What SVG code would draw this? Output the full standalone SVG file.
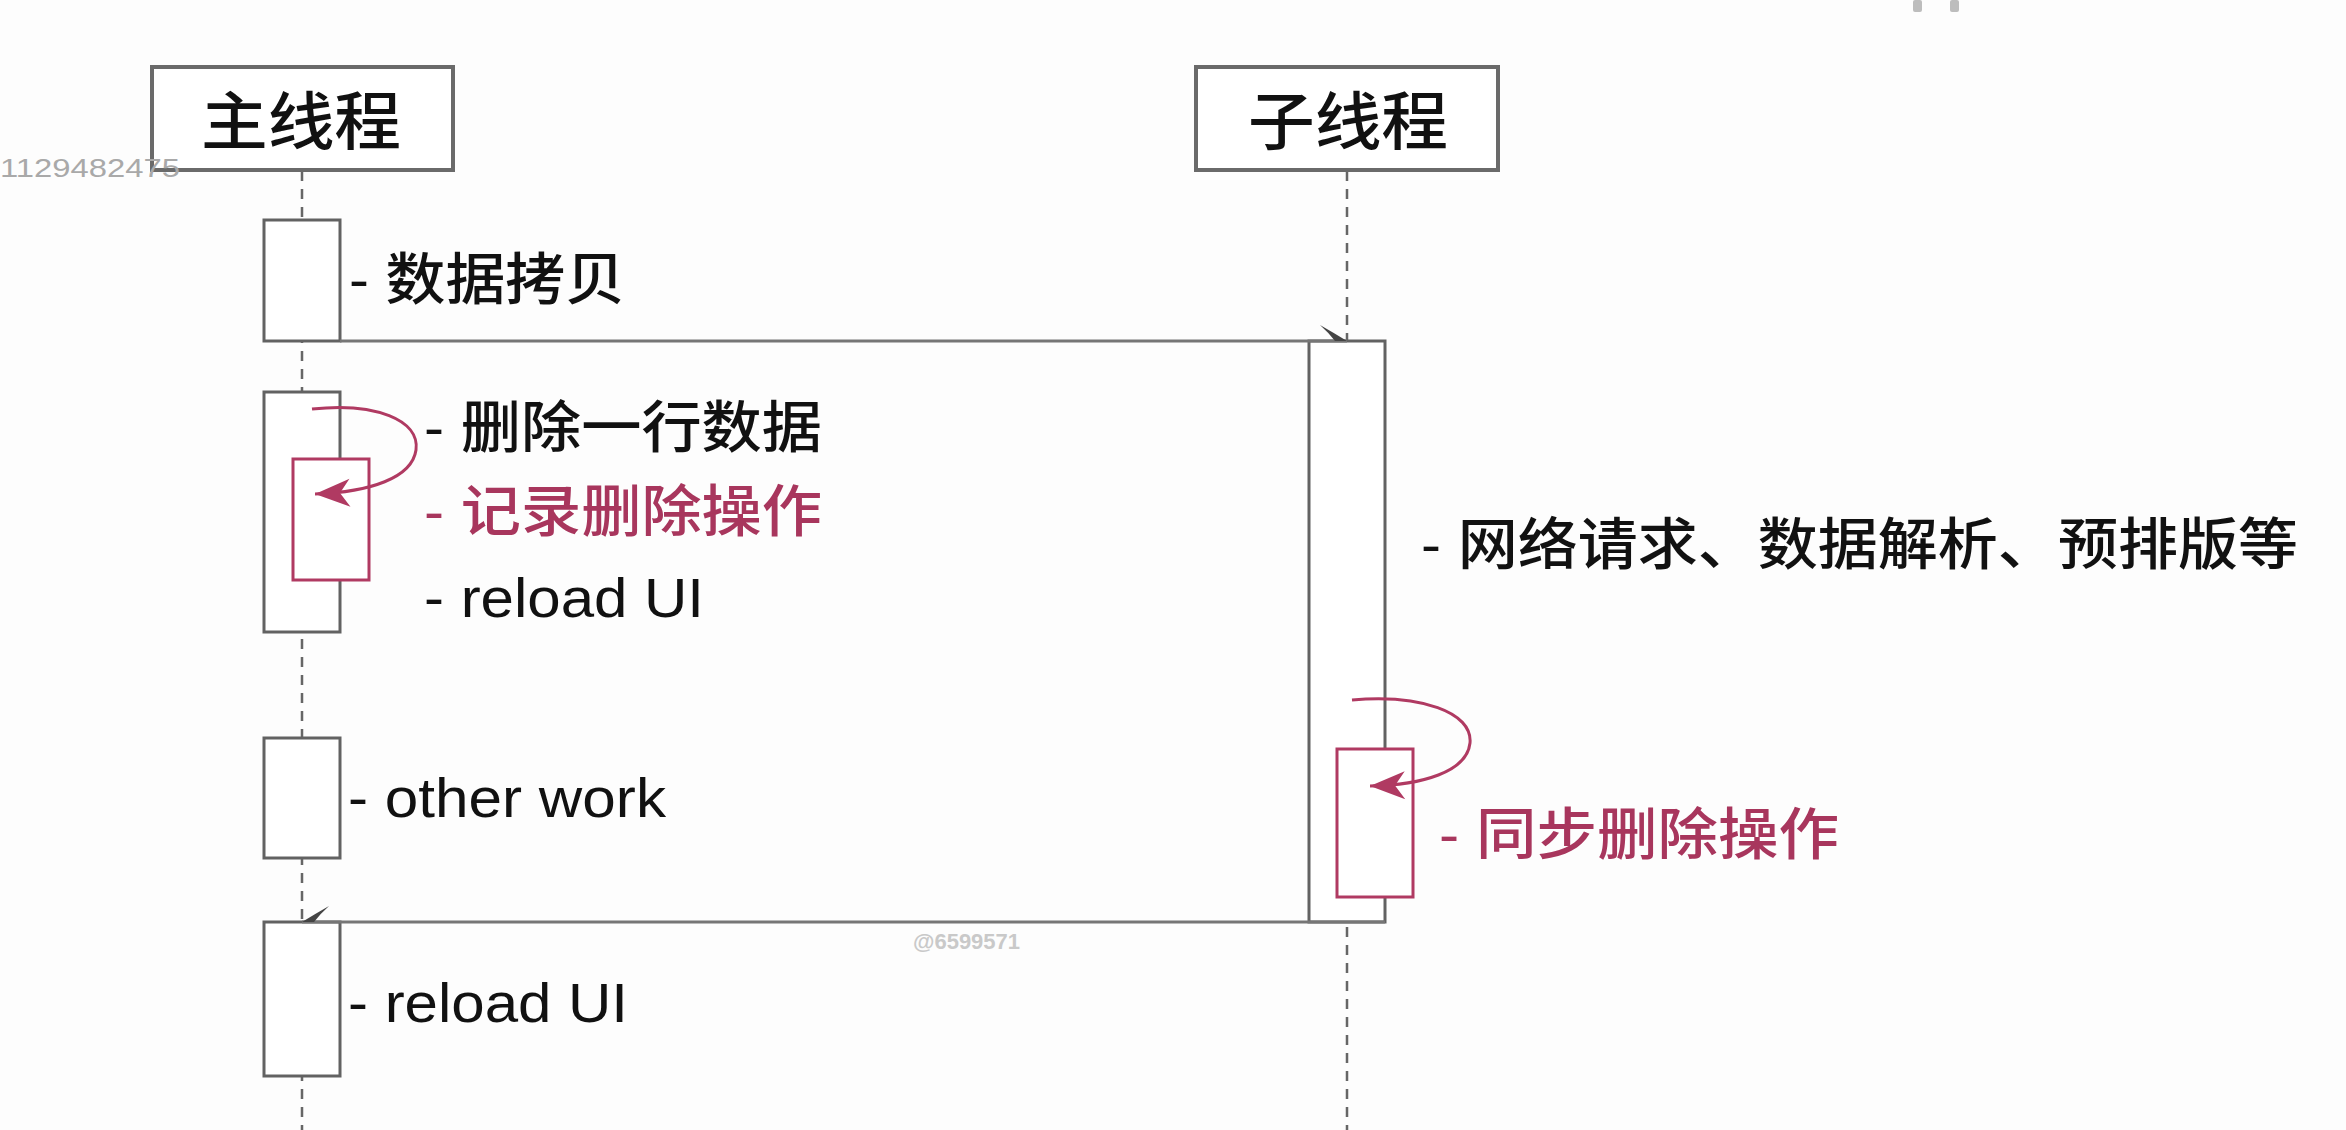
<svg xmlns="http://www.w3.org/2000/svg" width="2346" height="1130" viewBox="0 0 2346 1130">
  <style>
    .bg { fill: #fdfdfd; }
    .head { fill: #ffffff; stroke: #6a6a6a; stroke-width: 4; }
    .act { fill: #ffffff; stroke: #626262; stroke-width: 3; }
    .act-red { fill: #ffffff; stroke: #b03a62; stroke-width: 3; }
    .life { fill: none; stroke: #666666; stroke-width: 2.5; stroke-dasharray: 10 8; }
    .msg { fill: none; stroke: #767676; stroke-width: 3.2; }
    .loop { fill: none; stroke: #b03a62; stroke-width: 3; }
    .title { font-family: "Liberation Sans", "Noto Sans CJK SC", sans-serif; font-size: 63px; font-weight: 500; fill: #111111; text-anchor: middle; }
    .lbl { font-family: "Liberation Sans", "Noto Sans CJK SC", sans-serif; font-size: 56px; font-weight: 500; fill: #111111; }
    .lbl-red { fill: #a8365d; }
    .mark { font-family: "Liberation Sans", sans-serif; fill: #a9a9a9; }
  </style>
  <defs>
    <!-- half arrowhead, barb above the line, for a message going right -->
    <marker id="halfR" markerUnits="userSpaceOnUse" viewBox="-30 -18 32 20" markerWidth="32" markerHeight="20" refX="0" refY="0" orient="auto">
      <path d="M-27,-16 Q-13,-8 0,0 L-12,0 Q-18,-8 -27,-16 Z" fill="#444444"/>
    </marker>
    <!-- half arrowhead, barb above the line, for a message going left -->
    <marker id="halfL" markerUnits="userSpaceOnUse" viewBox="-30 -2 32 20" markerWidth="32" markerHeight="20" refX="0" refY="0" orient="auto">
      <path d="M-27,16 Q-13,8 0,0 L-12,0 Q-18,8 -27,16 Z" fill="#444444"/>
    </marker>
    <!-- barbed head for self-calls -->
    <marker id="loopHead" markerUnits="userSpaceOnUse" viewBox="0 0 38 32" markerWidth="38" markerHeight="32" refX="36" refY="16" orient="auto">
      <path d="M36,16 L1,2 L11,16 L1,30 Z" fill="#b03a62"/>
    </marker>
  </defs>

  <rect class="bg" x="0" y="0" width="2346" height="1130"/>

  <!-- lifelines -->
  <g id="lifelines">
    <line class="life" x1="302" y1="171" x2="302" y2="1130"/>
    <line class="life" x1="1347" y1="171" x2="1347" y2="1130"/>
  </g>

  <!-- main thread -->
  <g id="main-thread">
    <rect class="head" x="152" y="67" width="301" height="103"/>
    <text class="title" x="301" y="144" textLength="200" lengthAdjust="spacingAndGlyphs">主线程</text>
  </g>

  <!-- worker thread -->
  <g id="worker-thread">
    <rect class="head" x="1196" y="67" width="302" height="103"/>
    <text class="title" x="1348" y="144" textLength="200" lengthAdjust="spacingAndGlyphs">子线程</text>
  </g>

  <g id="act-copy">
    <rect class="act" x="264" y="220" width="76" height="121"/>
    <text class="lbl" x="349" y="299" textLength="276" lengthAdjust="spacingAndGlyphs">- 数据拷贝</text>
  </g>

  <g id="act-delete">
    <rect class="act" x="264" y="392" width="76" height="240"/>
    <text class="lbl" x="424" y="447" textLength="398" lengthAdjust="spacingAndGlyphs">- 删除一行数据</text>
    <text class="lbl" x="424" y="617" textLength="280" lengthAdjust="spacingAndGlyphs">- reload UI</text>
  </g>

  <g id="act-record">
    <rect class="act-red" x="293" y="459" width="76" height="121"/>
    <text class="lbl lbl-red" x="424" y="531" textLength="398" lengthAdjust="spacingAndGlyphs">- 记录删除操作</text>
  </g>

  <g id="act-other">
    <rect class="act" x="264" y="738" width="76" height="120"/>
    <text class="lbl" x="348" y="817" textLength="318" lengthAdjust="spacingAndGlyphs">- other work</text>
  </g>

  <g id="act-reload">
    <rect class="act" x="264" y="922" width="76" height="154"/>
    <text class="lbl" x="348" y="1022" textLength="280" lengthAdjust="spacingAndGlyphs">- reload UI</text>
  </g>

  <g id="act-worker">
    <rect class="act" x="1309" y="341" width="76" height="581"/>
    <text class="lbl" x="1421" y="564" textLength="877" lengthAdjust="spacingAndGlyphs">- 网络请求、数据解析、预排版等</text>
  </g>

  <g id="act-sync">
    <rect class="act-red" x="1337" y="749" width="76" height="148"/>
    <text class="lbl lbl-red" x="1439" y="854" textLength="400" lengthAdjust="spacingAndGlyphs">- 同步删除操作</text>
  </g>

  <!-- messages and self-calls -->
  <g id="connectors">
    <path class="msg" d="M340,341 L1347,341" marker-end="url(#halfR)"/>
    <path class="msg" d="M1385,922 L302,922" marker-end="url(#halfL)"/>
    <path class="loop" d="M312,409 C375,402 420,420 416,450 C412,478 370,492 315,494" marker-end="url(#loopHead)"/>
    <path class="loop" d="M1352,700 C1420,694 1473,712 1470,743 C1467,772 1422,785 1370,786" marker-end="url(#loopHead)"/>
  </g>

  <!-- overlay marks -->
  <text class="mark" x="0" y="177" font-size="25" textLength="180" lengthAdjust="spacingAndGlyphs">1129482475</text>
  <text class="mark" x="913" y="949" font-size="22" font-weight="bold" style="fill:#c9c9c9" textLength="107" lengthAdjust="spacingAndGlyphs">@6599571</text>
  <rect x="1913" y="0" width="9" height="12" rx="2" fill="#bdbdbd"/>
  <rect x="1950" y="0" width="9" height="12" rx="2" fill="#bdbdbd"/>
</svg>
